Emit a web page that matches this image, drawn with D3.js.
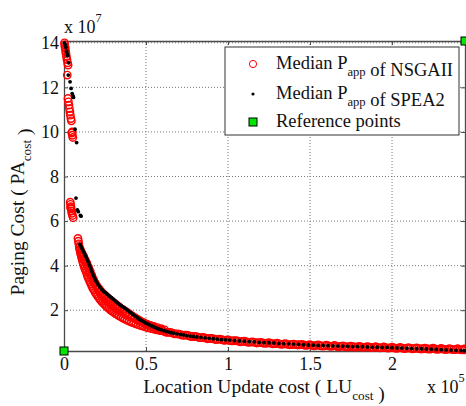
<!DOCTYPE html>
<html>
<head>
<meta charset="utf-8">
<script src="https://cdn.jsdelivr.net/npm/d3@7"></script>
<style>
  body { margin: 0; background: #fff; }
  svg text { font-family: "Liberation Serif", "Times New Roman", serif; fill: #111; }
</style>
</head>
<body>
<svg id="chart" width="466" height="406"></svg>
<script>
// LU in units of 1e5, PA in units of 1e7 (the axes show "x 10^5" / "x 10^7")
const xTicks = [0, 0.5, 1, 1.5, 2];
const yTicks = [2, 4, 6, 8, 10, 12, 14];

// Median Papp of NSGAII (red circles)
const nsgaUpper = [[0.003,14.0],[0.004,13.92],[0.006,13.82],[0.008,13.74],[0.010,13.62],[0.012,13.52],[0.015,13.38],[0.018,13.25],[0.022,13.1],[0.025,13.0],[0.020,12.55],[0.024,11.5],[0.027,11.35],[0.030,11.2],[0.033,11.05],[0.036,10.9],[0.039,10.75],[0.042,10.6],[0.045,10.5],[0.050,10.0],[0.048,9.95],[0.051,9.85],[0.054,9.75]];
const nsgaMid = [[0.038,6.85],[0.040,6.75],[0.042,6.65],[0.040,6.6],[0.044,6.55],[0.046,6.45],[0.048,6.35],[0.052,6.25],[0.056,6.15]];
const nsgaFront = [[0.085,5.22],[0.088,5.10],[0.090,4.98],[0.093,4.85],[0.096,4.72],[0.099,4.62],[0.102,4.52],[0.106,4.40],[0.110,4.30],[0.114,4.18],[0.118,4.08],[0.122,3.98],[0.126,3.88],[0.131,3.79],[0.136,3.70],[0.141,3.58],[0.146,3.48],[0.152,3.38],[0.158,3.28],[0.164,3.18],[0.170,3.08],[0.176,2.98],[0.183,2.90],[0.190,2.80],[0.197,2.72],[0.204,2.64],[0.212,2.56],[0.220,2.48],[0.228,2.41],[0.236,2.34],[0.245,2.27],[0.254,2.20],[0.263,2.14],[0.272,2.08],[0.282,2.02],[0.292,1.96],[0.302,1.91],[0.313,1.85],[0.324,1.80],[0.335,1.75],[0.347,1.70],[0.359,1.65],[0.371,1.60],[0.384,1.56],[0.397,1.51],[0.410,1.47],[0.424,1.43],[0.438,1.39],[0.452,1.35],[0.467,1.31],[0.482,1.28],[0.498,1.24],[0.514,1.21],[0.530,1.18],[0.547,1.15],[0.564,1.12],[0.582,1.09]];
const nsgaCore = [[0.094,4.80],[0.104,4.60],[0.114,4.44],[0.124,4.26],[0.134,4.10],[0.144,3.92],[0.154,3.74],[0.164,3.56],[0.174,3.38],[0.184,3.22],[0.195,3.08],[0.206,2.94],[0.218,2.82],[0.230,2.70],[0.242,2.59],[0.255,2.49],[0.268,2.40],[0.282,2.31],[0.296,2.22],[0.311,2.14],[0.326,2.06],[0.342,1.98],[0.358,1.91],[0.375,1.84],[0.392,1.77],[0.410,1.70],[0.428,1.63],[0.447,1.56],[0.466,1.50],[0.486,1.44],[0.506,1.38],[0.527,1.32],[0.548,1.27],[0.570,1.22],[0.592,1.17],[0.614,1.12]];
const nsgaEdge = [[0.100,4.72],[0.110,4.56],[0.120,4.42],[0.130,4.26],[0.140,4.10],[0.150,3.93],[0.160,3.76],[0.170,3.56],[0.180,3.38],[0.190,3.23],[0.200,3.10],[0.212,2.98],[0.224,2.87],[0.236,2.77],[0.248,2.68],[0.260,2.60],[0.273,2.51],[0.286,2.43],[0.300,2.35],[0.314,2.27],[0.328,2.19],[0.342,2.11],[0.356,2.04],[0.370,1.97],[0.385,1.90],[0.400,1.82],[0.415,1.75],[0.430,1.68],[0.445,1.61],[0.460,1.54],[0.476,1.47],[0.492,1.41],[0.508,1.35],[0.524,1.30],[0.540,1.25],[0.557,1.20],[0.574,1.15],[0.591,1.11]];
const nsgaTail = [[0.600,1.08],[0.625,1.01],[0.650,1.00],[0.675,0.94],[0.700,0.93],[0.725,0.87],[0.750,0.88],[0.775,0.82],[0.800,0.82],[0.825,0.77],[0.850,0.78],[0.875,0.72],[0.900,0.74],[0.925,0.68],[0.950,0.70],[0.975,0.65],[1.000,0.67],[1.025,0.62],[1.050,0.64],[1.075,0.58],[1.100,0.61],[1.125,0.56],[1.150,0.58],[1.175,0.53],[1.200,0.56],[1.225,0.51],[1.250,0.54],[1.275,0.49],[1.300,0.52],[1.325,0.47],[1.350,0.50],[1.375,0.45],[1.400,0.48],[1.425,0.44],[1.450,0.47],[1.475,0.42],[1.500,0.45],[1.525,0.40],[1.550,0.44],[1.575,0.39],[1.600,0.43],[1.625,0.38],[1.650,0.42],[1.675,0.36],[1.700,0.40],[1.725,0.35],[1.750,0.39],[1.775,0.34],[1.800,0.38],[1.825,0.33],[1.850,0.37],[1.875,0.32],[1.900,0.36],[1.925,0.31],[1.950,0.35],[1.975,0.30],[2.000,0.34],[2.025,0.29],[2.050,0.33],[2.075,0.28],[2.100,0.32],[2.125,0.27],[2.150,0.31],[2.175,0.26],[2.200,0.30],[2.225,0.25],[2.250,0.30],[2.275,0.24],[2.300,0.29],[2.325,0.23],[2.350,0.28],[2.375,0.23],[2.400,0.27],[2.425,0.22],[2.440,0.26]];
const nsgaTail2 = [[0.6125,1.04],[0.6375,1.01],[0.6625,0.97],[0.6875,0.94],[0.7125,0.90],[0.7375,0.88],[0.7625,0.85],[0.7875,0.82],[0.8125,0.80],[0.8375,0.77],[0.8625,0.75],[0.8875,0.73],[0.9125,0.71],[0.9375,0.69],[0.9625,0.68],[0.9875,0.66],[1.0125,0.64],[1.0375,0.63],[1.0625,0.61],[1.0875,0.60],[1.1125,0.58],[1.1375,0.57],[1.1625,0.56],[1.1875,0.55],[1.2125,0.53],[1.2375,0.52],[1.2625,0.51],[1.2875,0.50],[1.3125,0.49],[1.3375,0.48],[1.3625,0.47],[1.3875,0.46],[1.4125,0.46],[1.4375,0.45],[1.4625,0.44],[1.4875,0.43],[1.5125,0.42],[1.5375,0.42],[1.5625,0.41],[1.5875,0.40],[1.6125,0.40],[1.6375,0.39],[1.6625,0.38],[1.6875,0.38],[1.7125,0.37],[1.7375,0.36],[1.7625,0.36],[1.7875,0.35],[1.8125,0.35],[1.8375,0.34],[1.8625,0.34],[1.8875,0.33],[1.9125,0.33],[1.9375,0.32],[1.9625,0.32],[1.9875,0.31],[2.0125,0.31],[2.0375,0.30],[2.0625,0.30],[2.0875,0.29],[2.1125,0.29],[2.1375,0.28],[2.1625,0.28],[2.1875,0.27],[2.2125,0.27],[2.2375,0.26],[2.2625,0.26],[2.2875,0.25],[2.3125,0.25],[2.3375,0.24],[2.3625,0.24],[2.3875,0.23],[2.4125,0.23],[2.4375,0.22]];

// Median Papp of SPEA2 (black dots)
const speaUpper = [[0.002,14.0],[0.008,13.9],[0.012,13.8],[0.016,13.62],[0.020,13.5],[0.023,13.42],[0.028,13.1],[0.026,12.55],[0.037,12.25],[0.043,11.95],[0.050,11.72],[0.055,11.62],[0.058,11.55],[0.067,10.12],[0.077,9.52]];
const speaMid = [[0.073,7.03],[0.082,6.5],[0.087,6.42],[0.100,6.25],[0.104,6.22]];
const speaFront = [[0.098,4.95],[0.104,4.86],[0.110,4.76],[0.116,4.68],[0.122,4.58],[0.128,4.49],[0.134,4.40],[0.140,4.30],[0.146,4.20],[0.152,4.09],[0.158,3.98],[0.164,3.86],[0.170,3.74],[0.176,3.62],[0.182,3.52],[0.188,3.42],[0.194,3.33],[0.200,3.25],[0.208,3.15],[0.216,3.06],[0.224,2.99],[0.232,2.92],[0.240,2.86],[0.248,2.81],[0.256,2.77],[0.264,2.72],[0.272,2.66],[0.280,2.62],[0.290,2.56],[0.300,2.50],[0.310,2.44],[0.320,2.37],[0.330,2.31],[0.340,2.25],[0.350,2.20],[0.360,2.15],[0.370,2.10],[0.380,2.05],[0.390,1.99],[0.400,1.93],[0.410,1.88],[0.420,1.82],[0.430,1.76],[0.440,1.71],[0.450,1.65],[0.460,1.60],[0.470,1.55],[0.480,1.51],[0.490,1.46],[0.500,1.42],[0.510,1.39],[0.520,1.35],[0.530,1.31],[0.540,1.28],[0.550,1.25],[0.560,1.21],[0.570,1.18],[0.580,1.15],[0.595,1.12],[0.610,1.08],[0.625,1.05],[0.640,1.02],[0.655,0.99],[0.670,0.97],[0.690,0.94],[0.710,0.91],[0.730,0.89],[0.750,0.86],[0.770,0.84],[0.790,0.82],[0.810,0.80],[0.835,0.78],[0.860,0.76],[0.885,0.74],[0.910,0.72],[0.935,0.70],[0.960,0.68],[0.985,0.67],[1.010,0.66],[1.040,0.64],[1.070,0.62],[1.100,0.61],[1.130,0.59],[1.160,0.58],[1.190,0.56],[1.220,0.55],[1.250,0.54],[1.280,0.53],[1.310,0.51],[1.340,0.50],[1.370,0.49],[1.400,0.48],[1.430,0.47],[1.460,0.45],[1.490,0.44],[1.520,0.43],[1.550,0.42],[1.580,0.42],[1.610,0.41],[1.640,0.40],[1.670,0.39],[1.700,0.39],[1.730,0.38],[1.760,0.37],[1.790,0.37],[1.820,0.36],[1.850,0.35],[1.880,0.34],[1.910,0.34],[1.940,0.33],[1.970,0.33],[2.000,0.32],[2.030,0.31],[2.060,0.30],[2.090,0.29],[2.120,0.28],[2.150,0.27],[2.180,0.27],[2.210,0.26],[2.240,0.25],[2.270,0.24],[2.300,0.23],[2.330,0.22],[2.360,0.21],[2.390,0.20],[2.420,0.19],[2.440,0.18]];

// Reference points (ideal and nadir)
const refPoints = [[0, 0.17], [2.445, 14.08]];

const legendItems = ["nsga", "spea", "ref"];

const svg = d3.select('#chart');
const W = 466, H = 406;
const m = { left: 64, top: 41, right: 1, bottom: 55 };

svg.append('rect').attr('width', W).attr('height', H).attr('fill', '#fff');

const x = d3.scaleLinear().domain([0, 2.445]).range([m.left, W - m.right]);
const y = d3.scaleLinear().domain([0.17, 14.08]).range([H - m.bottom, m.top]);

const axisColor = '#4a4a4a';

// grid (dotted)
const grid = svg.append('g');
grid.selectAll('line.gx').data(xTicks.filter(d => d > 0)).join('line')
  .attr('x1', d => x(d)).attr('x2', d => x(d))
  .attr('y1', y.range()[0]).attr('y2', y.range()[1])
  .attr('stroke', '#777').attr('stroke-dasharray', '1,2');
grid.selectAll('line.gy').data(yTicks).join('line')
  .attr('y1', d => y(d)).attr('y2', d => y(d))
  .attr('x1', x.range()[0]).attr('x2', x.range()[1])
  .attr('stroke', '#777').attr('stroke-dasharray', '1,2');

// axes, ticks pointing inwards
const styleAxis = g => {
  g.select('.domain').attr('stroke', axisColor).attr('stroke-width', 1.3);
  g.selectAll('.tick line').attr('stroke', axisColor);
  g.selectAll('.tick text').attr('font-size', 18).attr('fill', '#111')
    .attr('font-family', '"Liberation Serif", "Times New Roman", serif');
};

svg.append('g').attr('transform', `translate(0,${y.range()[0]})`)
  .call(d3.axisBottom(x).tickValues(xTicks).tickFormat(d3.format('')).tickSizeInner(-4).tickSizeOuter(0).tickPadding(6))
  .call(styleAxis);
svg.append('g').attr('transform', `translate(0,${y.range()[1]})`)
  .call(d3.axisTop(x).tickValues(xTicks).tickFormat('').tickSizeInner(-4).tickSizeOuter(0))
  .call(styleAxis);
svg.append('g').attr('transform', `translate(${x.range()[0]},0)`)
  .call(d3.axisLeft(y).tickValues(yTicks).tickFormat(d3.format('')).tickSizeInner(-4).tickSizeOuter(0).tickPadding(5))
  .call(styleAxis);
svg.append('g').attr('transform', `translate(${x.range()[1]},0)`)
  .call(d3.axisRight(y).tickValues(yTicks).tickFormat('').tickSizeInner(-4).tickSizeOuter(0))
  .call(styleAxis);

// data
const nsga = [].concat(nsgaUpper, nsgaMid, nsgaFront, nsgaCore, nsgaEdge, nsgaTail, nsgaTail2);
const spea = [].concat(speaUpper, speaMid, speaFront);

svg.append('g').selectAll('circle').data(nsga).join('circle')
  .attr('cx', d => x(d[0])).attr('cy', d => y(d[1])).attr('r', 3.7)
  .attr('fill', 'none').attr('stroke', '#ff0000').attr('stroke-width', 1.4);

svg.append('g').selectAll('circle').data(spea).join('circle')
  .attr('cx', d => x(d[0])).attr('cy', d => y(d[1])).attr('r', 1.9)
  .attr('fill', '#000');

svg.append('g').selectAll('rect').data(refPoints).join('rect')
  .attr('x', d => x(d[0]) - 4).attr('y', d => y(d[1]) - 4)
  .attr('width', 8).attr('height', 8)
  .attr('fill', '#00e600').attr('stroke', '#000').attr('stroke-width', 1);

// text with sub/superscripts
function richText(g, parts, size) {
  const t = g.append('text').attr('font-size', size);
  parts.forEach(p => {
    if (p.sub) {
      t.append('tspan').attr('dy', 7).attr('font-size', size * 0.68).text(p.sub);
      t.append('tspan').attr('dy', -7).text('');
    } else if (p.sup) {
      t.append('tspan').attr('dy', -11).attr('font-size', size * 0.68).text(p.sup);
    } else {
      t.append('tspan').text(p.t);
    }
  });
  return t;
}

// axis labels
richText(svg, [{ t: 'Location Update cost ( LU' }, { sub: 'cost' }, { t: ' )' }], 19.5)
  .attr('x', 264).attr('y', 393).attr('text-anchor', 'middle');

richText(svg, [{ t: 'Paging Cost ( PA' }, { sub: 'cost' }, { t: ' )' }], 19.5)
  .attr('text-anchor', 'middle')
  .attr('transform', 'translate(24,212) rotate(-90)');

// exponent labels
richText(svg, [{ t: 'x 10' }, { sup: '7' }], 18).attr('x', 64).attr('y', 33);
richText(svg, [{ t: 'x 10' }, { sup: '5' }], 18).attr('x', 427).attr('y', 393);

// legend
const lg = svg.append('g');
lg.append('rect').attr('x', 225).attr('y', 47).attr('width', 234).attr('height', 88)
  .attr('fill', '#fff').attr('stroke', '#333').attr('stroke-width', 1);

const rowY = { nsga: 64, spea: 94, ref: 122 };
legendItems.forEach(k => {
  const cy = rowY[k];
  if (k === 'nsga') {
    lg.append('circle').attr('cx', 253).attr('cy', cy).attr('r', 3.6)
      .attr('fill', 'none').attr('stroke', '#ff0000');
    richText(lg, [{ t: 'Median P' }, { sub: 'app' }, { t: ' of NSGAII' }], 18.5).attr('x', 276).attr('y', cy + 5);
  } else if (k === 'spea') {
    lg.append('circle').attr('cx', 253).attr('cy', cy).attr('r', 1.6).attr('fill', '#000');
    richText(lg, [{ t: 'Median P' }, { sub: 'app' }, { t: ' of SPEA2' }], 18.5).attr('x', 276).attr('y', cy + 5);
  } else {
    lg.append('rect').attr('x', 249).attr('y', cy - 4).attr('width', 8).attr('height', 8)
      .attr('fill', '#00e600').attr('stroke', '#000');
    richText(lg, [{ t: 'Reference points' }], 18.5).attr('x', 276).attr('y', cy + 5);
  }
});
</script>
</body>
</html>
